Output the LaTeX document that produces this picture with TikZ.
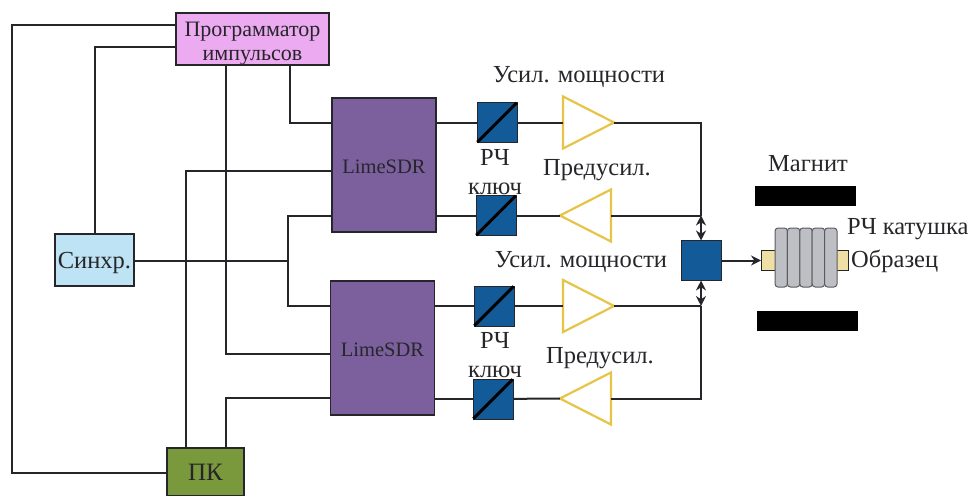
\documentclass[tikz,border=0pt]{standalone}
\usepackage{fontspec}
\setmainfont{Liberation Serif}
\usetikzlibrary{arrows.meta,shapes.geometric}
\definecolor{progpink}{RGB}{236,170,240}
\definecolor{syncblue}{RGB}{190,227,244}
\definecolor{limepurple}{RGB}{124,96,158}
\definecolor{pcgreen}{RGB}{122,152,60}
\definecolor{switchblue}{RGB}{18,90,152}
\definecolor{ampyellow}{RGB}{230,196,72}
\definecolor{samplecream}{RGB}{238,224,165}
\definecolor{coilgray}{RGB}{190,191,196}
\definecolor{inkdark}{RGB}{38,38,42}

\begin{document}
\begin{tikzpicture}[
  x=1pt,y=-1pt,
  >={Stealth[length=10pt,width=10pt]},
  lab/.style={font=\fontsize{24.5}{29}\selectfont,text=inkdark,inner sep=0pt,align=center},
  block/.style={draw=inkdark,line width=1.4pt,inner sep=0pt,outer sep=0pt,align=center,text=inkdark},
  prog/.style={block,fill=progpink,minimum width=153pt,minimum height=50pt,font=\fontsize{22}{24}\selectfont,text height=47pt},
  sync/.style={block,fill=syncblue,minimum width=79pt,minimum height=52pt,font=\fontsize{24.5}{29}\selectfont,text height=22pt},
  lime/.style={block,fill=limepurple,minimum width=104pt,minimum height=134pt,font=\fontsize{20.5}{24}\selectfont,text height=18pt},
  pc/.style={block,fill=pcgreen,minimum width=77pt,minimum height=48pt,font=\fontsize{25}{29}\selectfont},
  switch/.style={draw=inkdark,line width=1pt,fill=switchblue,inner sep=0pt,outer sep=0pt,minimum size=40pt},
  amp/.style={draw=ampyellow,line width=2.2pt,fill=white,isosceles triangle,isosceles triangle stretches,inner sep=0pt,outer sep=0pt,minimum width=52pt,minimum height=51pt},
  magnet/.style={fill=black,inner sep=0pt,outer sep=0pt,minimum width=101pt,minimum height=20pt},
  wire/.style={line width=2pt,inkdark},
  turn/.style={draw=inkdark!75,line width=1pt,fill=coilgray,rounded corners=3pt,inner sep=0pt,minimum width=12.4pt,minimum height=59pt}
]
\useasboundingbox (0,0) rectangle (976,495);

% control blocks
\node[prog] (prog) at (252.5,39) {Программатор\\импульсов};
\node[sync] (sync) at (94.5,260) {Синхр.};
\node[pc] (pc) at (205.5,472) {ПК};
\coordinate (corner1) at (12,25);
\coordinate (corner2) at (12,473);

% transceivers
\node[lime] (lime1) at (384,165) {LimeSDR};
\node[lime] (lime2) at (382.5,348) {LimeSDR};

% switches and amplifiers, upper half
\node[switch] (sw1) at (497,122.5) {};
\node[switch] (sw2) at (496,215.5) {};
\node[amp] (amp1) at (579,122.5) {};
\node[amp,shape border rotate=180] (amp2) at (595,215.5) {};

% switches and amplifiers, lower half
\node[switch] (sw3) at (494,306) {};
\node[switch] (sw4) at (493,399) {};
\node[amp] (amp3) at (579,306) {};
\node[amp,shape border rotate=180] (amp4) at (595,398.5) {};

\foreach \s in {sw1,sw2,sw3,sw4}
  \draw[line width=3pt,black,shorten >=0.5pt,shorten <=0.5pt] (\s.south west) -- (\s.north east);

% combiner, coil, sample
\node[switch] (comb) at (701,260.5) {};
\coordinate (node1) at (701,215.5);
\coordinate (node2) at (701,306);
\node[draw=inkdark,line width=1pt,fill=samplecream,minimum width=87pt,minimum height=20pt,inner sep=0pt,outer sep=0pt] (sample) at (804.5,260.5) {};
\foreach \i in {0,...,4}
  \node[turn] (turn\i) at ({781.2+12.4*\i},257.5) {};
\node[magnet] (mag1) at (805.5,196) {};
\node[magnet] (mag2) at (807,320.5) {};

% wiring from the pulse programmer
\draw[wire] (prog.west |- corner1) -- (corner1) -- (corner2) -- (pc.west |- corner2);
\draw[wire] (prog.west |- 0,47) -| (sync.north);
\draw[wire] (prog.south -| 290,0) |- (lime1.west |- 0,123);
\draw[wire] (prog.south -| 226,0) |- (lime2.west |- 0,354);

% wiring from the PC
\draw[wire] (pc.north -| 186,0) |- (lime1.west |- 0,171);
\draw[wire] (pc.north -| 226,0) |- (lime2.west |- 0,398);

% sync line
\draw[wire] (sync.east |- 0,261) -- (288,261);
\draw[wire] (lime1.west |- 0,216) -| (288,306) -- (lime2.west |- 0,306);

% signal chains
\draw[wire] (lime1.east |- sw1) -- (sw1);
\draw[wire] (lime1.east |- sw2) -- (sw2);
\draw[wire] (lime2.east |- sw3) -- (sw3);
\draw[wire] (lime2.east |- sw4) -- (sw4);
\draw[wire] (sw1) -- (amp1);
\draw[wire] (sw2) -- (amp2.west);
\draw[wire] (sw3) -- (amp3);
\draw[wire] (sw4) -- (amp4.west);
\draw[wire] (amp1.east) -| (node1);
\draw[wire] (amp2.east) -- (node1);
\draw[wire] (amp3.east) -- (node2);
\draw[wire] (amp4.east) -| (node2);
\draw[wire,<->] (node1) -- (comb.north);
\draw[wire,<->] (comb.south) -- (node2);
\draw[wire,->] (comb.east) -- (sample.west);

% labels
\node[lab] (lab1) at (579,77) {Усил. мощности};
\node[lab] (lab2) at (581,262) {Усил. мощности};
\node[lab] (lab3) at (597,170) {Предусил.};
\node[lab] (lab4) at (600,358) {Предусил.};
\node[lab] (lab5) at (495,172) {РЧ\\ключ};
\node[lab] (lab6) at (495,355) {РЧ\\ключ};
\node[lab] (lab7) at (808,164) {Магнит};
\node[lab,anchor=west] (lab8) at (847,229) {РЧ катушка};
\node[lab,anchor=west] (lab9) at (851,261) {Образец};

\end{tikzpicture}
\end{document}
